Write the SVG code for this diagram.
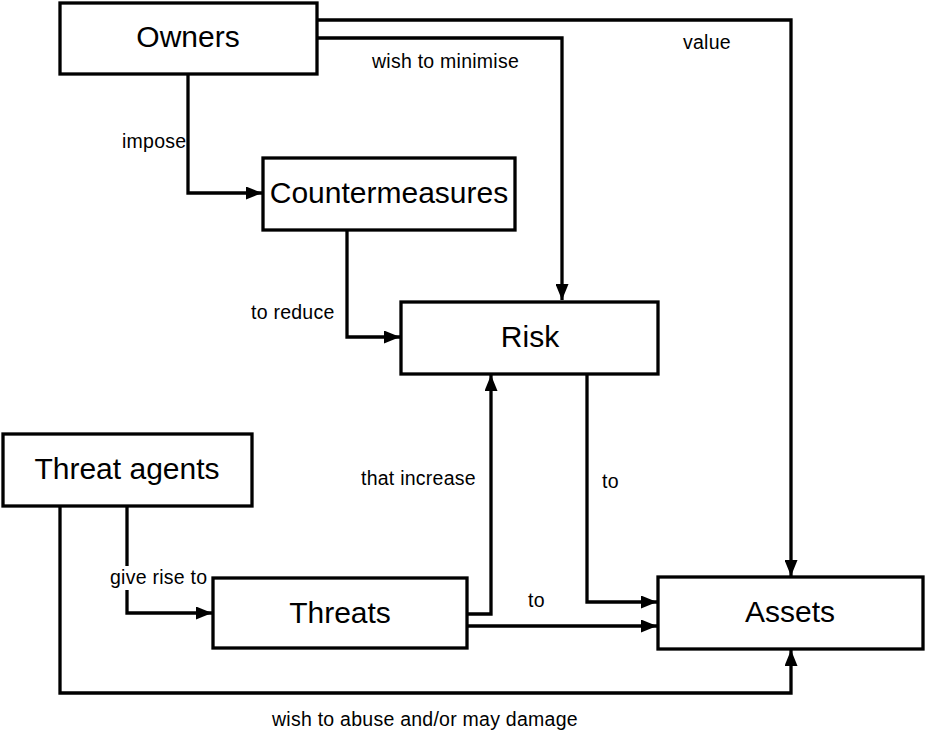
<svg xmlns="http://www.w3.org/2000/svg" width="925" height="734" viewBox="0 0 925 734">
<style>
.box{fill:#fff;stroke:#000;stroke-width:3.3}
.nt{font-family:"Liberation Sans",Arial,sans-serif;font-size:30px;text-anchor:middle;fill:#000}
.lb{font-family:"Liberation Sans",Arial,sans-serif;font-size:19.5px;letter-spacing:0.25px;fill:#000}
.c{fill:none;stroke:#000;stroke-width:3.3;marker-end:url(#ah)}
</style>
<defs>
<marker id="ah" markerUnits="userSpaceOnUse" markerWidth="17" markerHeight="13" refX="16" refY="6.5" orient="auto">
<path d="M0,0 L16,6.5 L0,13 z" fill="#000"/>
</marker>
</defs>
<rect width="925" height="734" fill="#fff"/>
<g id="connectors">
<path class="c" d="M317,20 H791 V576"/>
<path class="c" d="M317,38 H562 V300"/>
<path class="c" d="M188,74 V193 H262"/>
<path class="c" d="M347,230 V337 H400"/>
<path class="c" d="M467,614 H491 V375"/>
<path class="c" d="M587,374 V602 H657"/>
<path class="c" d="M467,626 H657"/>
<path class="c" d="M127,506 V613 H212"/>
<path class="c" d="M60,506 V693 H791 V650"/>
</g>
<g id="labels">
<text class="lb" x="122" y="148">impose</text>
<text class="lb" x="372" y="68">wish to minimise</text>
<text class="lb" x="683" y="49">value</text>
<text class="lb" x="251" y="319">to reduce</text>
<text class="lb" x="361" y="485">that increase</text>
<rect x="109" y="566" width="100" height="24" fill="#fff"/>
<text class="lb" x="110" y="584">give rise to</text>
<text class="lb" x="602" y="488">to</text>
<text class="lb" x="528" y="607">to</text>
<text class="lb" x="272" y="726">wish to abuse and/or may damage</text>
</g>
<g id="owners"><rect class="box" x="60" y="3" width="257" height="71"/><text class="nt" x="188" y="47">Owners</text></g>
<g id="countermeasures"><rect class="box" x="263" y="158" width="252" height="72"/><text class="nt" x="389" y="203">Countermeasures</text></g>
<g id="risk"><rect class="box" x="401" y="302" width="257" height="72"/><text class="nt" x="530" y="347">Risk</text></g>
<g id="threat-agents"><rect class="box" x="3" y="434" width="249" height="72"/><text class="nt" x="127" y="479">Threat agents</text></g>
<g id="threats"><rect class="box" x="213" y="578" width="254" height="70"/><text class="nt" x="340" y="623">Threats</text></g>
<g id="assets"><rect class="box" x="658" y="577" width="265" height="72"/><text class="nt" x="790" y="622">Assets</text></g>
</svg>
